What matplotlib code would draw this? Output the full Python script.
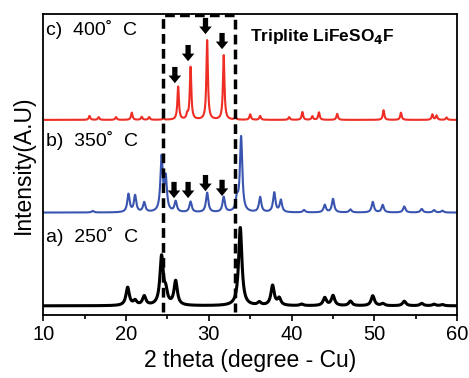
import numpy as np
import matplotlib
matplotlib.use("Agg")
from matplotlib import pyplot as plt

plt.rcParams['font.family'] = ['Liberation Sans', 'DejaVu Sans']

# peak lists: (2theta, height above baseline)
black_base = 3.0
black_peaks = [(20.2, 6), (21.1, 1.5), (22.2, 3), (24.3, 16), (24.8, 4), (26.0, 8),
               (33.8, 26), (36.1, 1), (37.7, 6.6), (38.5, 2.3), (41.2, 0.5), (44.0, 2.6),
               (45.0, 3.3), (47.1, 1.5), (49.8, 3.3), (51.0, 0.7), (53.6, 1.5),
               (55.7, 0.8), (57.2, 0.5), (58.2, 0.4)]

blue_base = 34.0
blue_peaks = [(16.0, 0.5), (20.3, 6), (21.1, 5.5), (22.2, 3.2), (24.3, 18), (24.8, 11),
              (26.0, 3.5), (27.8, 3.5), (29.8, 6.5), (31.8, 5), (33.4, 4), (33.9, 25),
              (36.2, 5), (37.9, 6.5), (38.7, 4), (41.5, 0.8), (44.0, 2.5), (45.0, 4.5),
              (47.1, 1), (49.8, 3.5), (51.0, 2.5), (53.6, 2), (55.7, 1.2), (57.2, 0.8),
              (58.2, 0.6)]

red_base = 64.8
red_peaks = [(15.6, 1.3), (16.7, 0.9), (18.8, 0.9), (20.7, 2.4), (21.9, 1), (22.8, 0.9),
             (24.5, 0.5), (26.3, 11), (27.4, 1.5), (27.8, 17.5), (29.8, 26.5), (31.8, 21.5),
             (33.2, 0.8), (35.0, 1.8), (36.2, 1.3), (39.7, 0.9), (41.3, 2.6), (42.5, 1.2),
             (43.3, 2.5), (45.5, 2), (51.1, 3.2), (53.2, 2.4), (57.0, 1.8), (57.5, 1.4),
             (58.7, 0.8)]

labels = ["a)  250˚  C", "b)  350˚  C", "c)  400˚  C"]
label_y = [26, 58, 95]

# arrow tops (x, y), each arrow points down
red_arrows = [(25.9, 82.4), (27.5, 89.7), (29.6, 98.7), (31.6, 93.7)]
blue_arrows = [(25.8, 44.2), (27.5, 44.2), (29.6, 46.5), (31.6, 44.9)]
arrow_len = 5.4

box_x = (24.5, 33.2)
box_y = (1, 99.5)


def pattern(x, base, peaks, w):
    y = np.full_like(x, base)
    for c, h in peaks:
        y += h / (1 + ((x - c) / w) ** 2)
    return y


x = np.linspace(10, 60, 3000)

fig = plt.figure(figsize=(4.69, 3.78), dpi=100)
ax = fig.add_axes([0.092, 0.167, 0.883, 0.796])

ax.plot(x, pattern(x, black_base, black_peaks, 0.24), color="black", lw=2.2)
ax.plot(x, pattern(x, blue_base, blue_peaks, 0.17), color="#3a55b0", lw=1.5)
ax.plot(x, pattern(x, red_base, red_peaks, 0.11), color="#ee2e24", lw=1.5)

# dashed box around the marked region
ax.plot([box_x[0], box_x[0], box_x[1], box_x[1]], [box_y[0], box_y[1], box_y[1], box_y[0]],
        color="black", lw=2.5, ls=(0, (2.8, 1.5)))

for xa, ya in red_arrows + blue_arrows:
    ax.annotate("", xy=(xa, ya - arrow_len), xytext=(xa, ya),
                arrowprops=dict(arrowstyle="simple,head_width=0.9,head_length=0.55,tail_width=0.38",
                                mutation_scale=10, color="black", lw=0,
                                shrinkA=0, shrinkB=0))

for t, yy in zip(labels, label_y):
    ax.text(10.3, yy, t, fontsize=14, va="center", ha="left")

ax.text(35.0, 92.5, "Triplite LiFeSO$_{\\mathbf{4}}$F", fontsize=12.5, fontweight="bold",
        va="center", ha="left")

ax.set_xlim(10, 60)
ax.set_ylim(0, 100)
ax.set_xticks([10, 20, 30, 40, 50, 60])
ax.set_xticks([15, 25, 35, 45, 55], minor=True)
ax.set_yticks([])
ax.tick_params(axis="x", labelsize=14.5, length=4, width=1.2, pad=3)
ax.tick_params(axis="x", which="minor", length=3, width=1.2)
for s in ax.spines.values():
    s.set_linewidth(1.3)

ax.set_xlabel("2 theta (degree - Cu)", fontsize=16.5, labelpad=4)
ax.set_ylabel("Intensity(A.U)", fontsize=16.5, labelpad=6)

fig.savefig("out.png", dpi=100)
